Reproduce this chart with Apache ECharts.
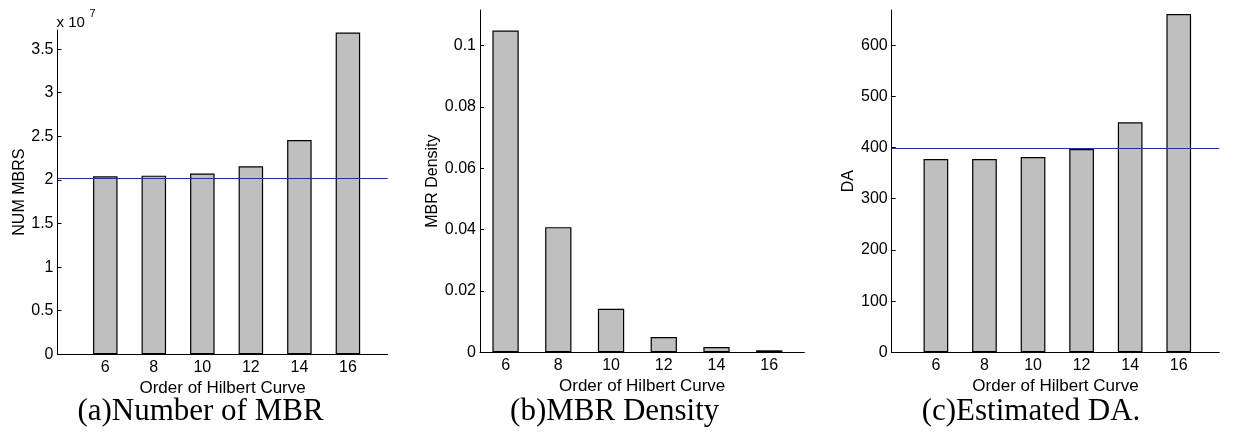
<!DOCTYPE html>
<html>
<head>
<meta charset="utf-8">
<script src="https://cdn.jsdelivr.net/npm/echarts@6/dist/echarts.min.js"></script>
<style>
  html, body { margin: 0; padding: 0; background: #fff; }
  #chart { width: 1233px; height: 436px; }
</style>
</head>
<body>
<div id="chart"></div>
<script>
// Hilbert curve orders on the x axis
const orders = [6, 8, 10, 12, 14, 16];

// (a) number of MBRs, with reference level
const mbrCount = [2.041e7, 2.049e7, 2.072e7, 2.156e7, 2.458e7, 3.689e7];
const mbrCountRef = 2.022e7;
const mbrCountTicks = [0, 0.5e7, 1e7, 1.5e7, 2e7, 2.5e7, 3e7, 3.5e7];

// (b) MBR density
const mbrDensity = [0.1049, 0.0408, 0.0142, 0.0050, 0.0017, 0.00065];
const mbrDensityTicks = [0, 0.02, 0.04, 0.06, 0.08, 0.1];

// (c) estimated DA, with reference level
const estimatedDA = [377.5, 377.5, 381.4, 397.0, 449.2, 660.7];
const daRef = 397.7;
const daTicks = [0, 100, 200, 300, 400, 500, 600];

const captions = ['(a)Number of MBR', '(b)MBR Density', '(c)Estimated DA.'];
const yNames = ['NUM MBRS', 'MBR Density', 'DA'];
const xName = 'Order of Hilbert Curve';

const SANS = 'Liberation Sans, Arial, Helvetica, sans-serif';
const SERIF = 'Liberation Serif, Times New Roman, serif';

const panels = [
  { left: 57.5, right: 387.7, top: 30, bottom: 354.3, xMin: 4.03, xMax: 17.64, yMax: 3.719e7,
    barWidth: 24.5, values: mbrCount, ticks: mbrCountTicks, ref: mbrCountRef, nameGap: 30,
    fmt: v => String(+(v / 1e7).toFixed(2)) },
  { left: 480, right: 804.3, top: 10, bottom: 352.3, xMin: 5.03, xMax: 17.33, yMax: 0.1116,
    barWidth: 26.3, values: mbrDensity, ticks: mbrDensityTicks, ref: null, nameGap: 39,
    fmt: v => String(+v.toFixed(3)) },
  { left: 891.7, right: 1219.3, top: 10, bottom: 352.3, xMin: 4.18, xMax: 17.67, yMax: 668.6,
    barWidth: 24.7, values: estimatedDA, ticks: daTicks, ref: daRef, nameGap: 35,
    fmt: v => String(v) }
];

const W = 1233, H = 436;
const grid = [], xAxis = [], yAxis = [], series = [], graphic = [];

panels.forEach((p, i) => {
  grid.push({ left: p.left, top: p.top, width: p.right - p.left, height: p.bottom - p.top,
              containLabel: false });
  xAxis.push({
    type: 'value', gridIndex: i, min: p.xMin, max: p.xMax,
    name: xName, nameLocation: 'middle', nameGap: 17,
    nameTextStyle: { fontFamily: SANS, fontSize: 17, color: '#000' },
    axisLine: { show: true, lineStyle: { color: '#000', width: 1 } },
    axisTick: { show: false },
    splitLine: { show: false },
    axisLabel: { customValues: orders, margin: 5, fontFamily: SANS, fontSize: 16, color: '#000' }
  });
  yAxis.push({
    type: 'value', gridIndex: i, min: 0, max: p.yMax,
    name: yNames[i], nameLocation: 'middle', nameGap: p.nameGap,
    nameTextStyle: { fontFamily: SANS, fontSize: 16, color: '#000' },
    axisLine: { show: true, lineStyle: { color: '#000', width: 1 } },
    axisTick: { show: true, inside: true, length: 4, customValues: p.ticks,
                lineStyle: { color: '#000' } },
    splitLine: { show: false },
    axisLabel: { customValues: p.ticks, margin: 4, fontFamily: SANS, fontSize: 16,
                 color: '#000', formatter: p.fmt }
  });
  const s = {
    type: 'bar', xAxisIndex: i, yAxisIndex: i,
    data: orders.map((o, k) => [o, p.values[k]]),
    barWidth: p.barWidth,
    itemStyle: { color: '#bfbfbf', borderColor: '#000', borderWidth: 1.2 },
    silent: true, animation: false
  };
  if (p.ref != null) {
    s.markLine = {
      silent: true, symbol: 'none', label: { show: false },
      lineStyle: { color: '#1f1fff', width: 1, type: 'solid' },
      data: [{ yAxis: p.ref }]
    };
  }
  series.push(s);
});

// caption under each panel
const captionX = [200.5, 614.7, 1031];
captions.forEach((c, i) => {
  graphic.push({
    type: 'text', x: captionX[i], y: 412,
    style: { text: c, font: '31px ' + SERIF, fill: '#000', align: 'center', verticalAlign: 'middle' }
  });
});

// exponent marker of panel (a)
graphic.push({
  type: 'text', x: 56.5, y: 23,
  style: { text: 'x 10', font: '15px ' + SANS, fill: '#000', align: 'left', verticalAlign: 'middle' }
});
graphic.push({
  type: 'text', x: 89.5, y: 14,
  style: { text: '7', font: '11px ' + SANS, fill: '#000', align: 'left', verticalAlign: 'middle' }
});

const chart = echarts.init(document.getElementById('chart'), null, { renderer: 'canvas', width: W, height: H });
chart.setOption({
  backgroundColor: '#fff',
  animation: false,
  grid, xAxis, yAxis, series, graphic
});
</script>
</body>
</html>
